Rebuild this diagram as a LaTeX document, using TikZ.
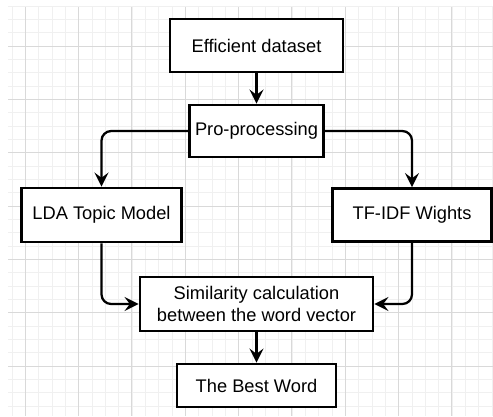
\documentclass[tikz,border=0pt]{standalone}
\usepackage{fontspec}
\setmainfont{Liberation Sans}
\usepackage{tikz}
\usetikzlibrary{positioning, arrows.meta}

\tikzset{
    block/.style={draw, line width=1.6pt, fill=white, align=center,
        font=\fontsize{10.4pt}{12.4pt}\selectfont, inner sep=2pt},
    flow/.style={line width=1.3pt, rounded corners=5.5pt,
        -{Stealth[length=8pt,width=8pt,inset=3pt]}},
    minorgrid/.style={draw=black!6, line width=0.4pt},
    majorgrid/.style={draw=black!15, line width=0.5pt}
}

\begin{document}
\begin{tikzpicture}[x=0.2mm,y=-0.2mm,on grid,node distance=17mm]
    % background and grid
    \fill[white] (0,0) rectangle (493,416);
    \useasboundingbox (0,0) rectangle (493,416);
    \foreach \i in {0,...,36}
        \draw[minorgrid] ({12+\i*13.333},7) -- ({12+\i*13.333},416);
    \foreach \i in {0,...,30}
        \draw[minorgrid] (8,{6+\i*13.333}) -- (493,{6+\i*13.333});
    \foreach \i in {0,...,8}
        \draw[majorgrid] ({25+\i*53.333},7) -- ({25+\i*53.333},416);
    \foreach \i in {0,...,7}
        \draw[majorgrid] (8,{46+\i*53.333}) -- (493,{46+\i*53.333});

    \node[block, minimum width=34.6mm, minimum height=10.6mm] (eff) at (256.5,45.5) {Efficient dataset};
    \node[block, minimum width=26.8mm, minimum height=10.4mm] (pre) [below=17.1mm of eff] {Pro-processing};
    \node[block, minimum width=32mm, minimum height=10.8mm] (lda) [below left=16.8mm and 31mm of pre] {LDA Topic Model};
    \node[block, minimum width=31.8mm, minimum height=10.6mm] (tfidf) [below right=16.8mm and 31.1mm of pre] {TF-IDF Wights};
    \node[block, minimum width=46.6mm, minimum height=10.8mm] (sim) [below=34.6mm of pre] {Similarity calculation\\between the word vector};
    \node[block, minimum width=31.8mm, minimum height=8.6mm] (best) [below=16.3mm of sim] {The Best Word};

    \draw[flow] (eff) -- (pre);
    \draw[flow] (pre.west) -| (lda.north);
    \draw[flow] (pre.east) -| (tfidf.north);
    \draw[flow] (lda.south) |- (sim.west);
    \draw[flow] (tfidf.south) |- (sim.east);
    \draw[flow] (sim) -- (best);
\end{tikzpicture}
\end{document}
